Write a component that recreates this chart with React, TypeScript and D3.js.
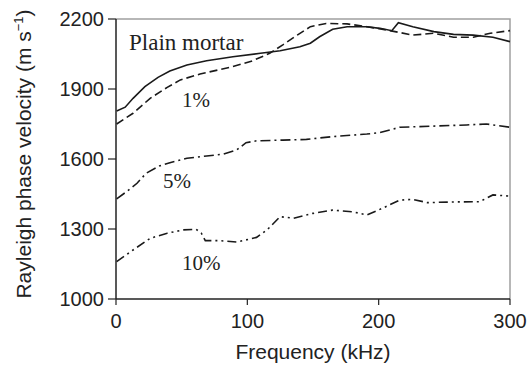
import React from 'react';
import { scaleLinear, line } from 'd3';

const xTicks = [0, 100, 200, 300];
const yTicks = [1000, 1300, 1600, 1900, 2200];

// frequency (kHz) / velocity (m/s)
const plainF = [0.5, 7, 13, 22, 32, 41, 54, 69, 89, 110, 125, 140, 148, 155, 165, 176, 191, 201, 210, 215, 226, 242, 257, 272, 287, 300];
const plainV = [1806, 1822, 1860, 1910, 1950, 1977, 2003, 2021, 2038, 2053, 2064, 2081, 2096, 2124, 2156, 2167, 2167, 2160, 2150, 2184, 2167, 2146, 2134, 2131, 2122, 2103];

const p1F = [0.5, 13, 26, 39, 49, 64, 89, 104, 117, 127, 138, 148, 160, 176, 191, 206, 226, 242, 257, 272, 285, 300];
const p1V = [1750, 1796, 1860, 1907, 1939, 1964, 1996, 2021, 2053, 2089, 2131, 2167, 2181, 2179, 2167, 2153, 2131, 2139, 2122, 2122, 2139, 2150];

const p5F = [0.5, 8, 16, 23, 33, 41, 54, 69, 82, 92, 99, 107, 127, 145, 165, 191, 201, 216, 242, 267, 282, 300];
const p5V = [1429, 1460, 1496, 1539, 1570, 1584, 1603, 1613, 1621, 1639, 1670, 1678, 1681, 1684, 1696, 1707, 1713, 1736, 1741, 1746, 1750, 1736];

const p10F = [0.5, 13, 26, 39, 51, 61, 65, 68, 79, 92, 107, 115, 125, 135, 150, 165, 181, 191, 203, 216, 226, 237, 257, 277, 287, 300];
const p10V = [1160, 1210, 1260, 1282, 1296, 1299, 1282, 1250, 1250, 1244, 1264, 1296, 1353, 1346, 1367, 1381, 1373, 1360, 1389, 1424, 1427, 1413, 1416, 1417, 1446, 1441];

const series = [
  { f: plainF, v: plainV, dash: '' },
  { f: p1F, v: p1V, dash: '8 4' },
  { f: p5F, v: p5V, dash: '10 4 2 4' },
  { f: p10F, v: p10V, dash: '9 4 2 4 2 4' },
];

export default function App() {
  const left = 116, right = 510, top = 19, bottom = 299;
  const x = scaleLinear().domain([0, 300]).range([left, right]);
  const y = scaleLinear().domain([1000, 2200]).range([bottom, top]);

  const mkLine = (f: number[], v: number[]) =>
    line<number>().x((_, i) => x(f[i])).y((_, i) => y(v[i]))(v) || '';

  const sans = 'Liberation Sans, Arial, sans-serif';
  const serif = 'Liberation Serif, Times New Roman, serif';

  return (
    <svg width={532} height={367} style={{ position: 'absolute', left: 0, top: 0, background: '#fff' }}>
      {/* grey frame top/right */}
      <path d={`M${left},${top}H${right}V${bottom}`} fill="none" stroke="#a0a0a0" strokeWidth={1.5} />
      {/* axes */}
      <line x1={left} x2={left} y1={top} y2={bottom} stroke="#222" strokeWidth={1.5} />
      <line x1={left} x2={right} y1={bottom} y2={bottom} stroke="#222" strokeWidth={1.5} />

      {yTicks.map(t => (
        <g key={t}>
          <line x1={left - 8} x2={left} y1={y(t)} y2={y(t)} stroke="#222" strokeWidth={1.2} />
          <text x={left - 12} y={y(t) + 7} textAnchor="end" fontFamily={sans} fontSize={20} fill="#222">{t}</text>
        </g>
      ))}
      {xTicks.map(t => (
        <g key={t}>
          <line x1={x(t)} x2={x(t)} y1={bottom} y2={bottom + 6} stroke="#222" strokeWidth={1.2} />
          <text x={x(t)} y={bottom + 29} textAnchor="middle" fontFamily={sans} fontSize={20} fill="#222">{t}</text>
        </g>
      ))}

      <text x={(left + right) / 2} y={359} textAnchor="middle" fontFamily={sans} fontSize={21} fill="#222">Frequency (kHz)</text>
      <text transform="translate(31,154) rotate(-90)" textAnchor="middle" fontFamily={sans} fontSize={21} fill="#222">
        Rayleigh phase velocity (m s<tspan dy={-8} fontSize={13}>−1</tspan><tspan dy={8}>)</tspan>
      </text>

      {series.map((s, i) => (
        <path key={i} d={mkLine(s.f, s.v)} fill="none" stroke="#1a1a1a" strokeWidth={1.6} strokeDasharray={s.dash || undefined} />
      ))}

      <text x={129} y={50} fontFamily={serif} fontSize={23} fill="#222">Plain mortar</text>
      <text x={182} y={107} fontFamily={serif} fontSize={21} fill="#222">1%</text>
      <text x={163} y={188} fontFamily={serif} fontSize={21} fill="#222">5%</text>
      <text x={182} y={270} fontFamily={serif} fontSize={21} fill="#222">10%</text>
    </svg>
  );
}
